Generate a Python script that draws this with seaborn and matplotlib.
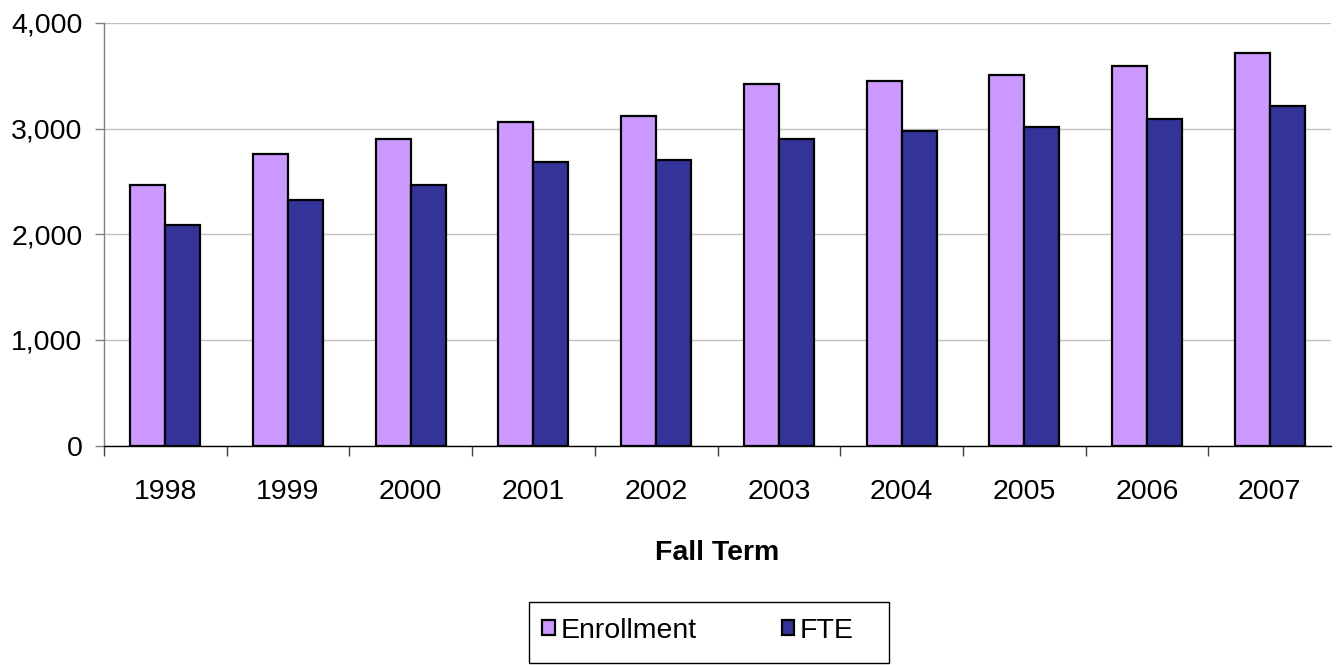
import matplotlib
matplotlib.use("Agg")
import matplotlib.pyplot as plt
import seaborn as sns
import pandas as pd
from matplotlib.patches import Patch, Rectangle
from matplotlib.ticker import FuncFormatter, FixedLocator

years = ["1998", "1999", "2000", "2001", "2002", "2003", "2004", "2005", "2006", "2007"]
enrollment = [2470, 2761, 2900, 3065, 3121, 3425, 3453, 3503, 3595, 3718]
fte = [2085, 2328, 2467, 2685, 2707, 2900, 2973, 3020, 3090, 3215]
series_names = ["Enrollment", "FTE"]
colors = ["#CC99FF", "#333399"]

df = pd.DataFrame({
    "year": years * 2,
    "value": enrollment + fte,
    "series": [series_names[0]] * len(years) + [series_names[1]] * len(years),
})

sns.set_style("white")
plt.rcParams["font.family"] = ["Liberation Sans", "DejaVu Sans"]
plt.rcParams["text.color"] = "black"
plt.rcParams["axes.labelcolor"] = "black"
plt.rcParams["xtick.labelcolor"] = "black"
plt.rcParams["ytick.labelcolor"] = "black"

W, H = 1339, 665
fig = plt.figure(figsize=(W / 100, H / 100), dpi=100)
ax = fig.add_axes([104 / W, 1 - 445.5 / H, (1331 - 104) / W, (445.5 - 23) / H])

sns.barplot(data=df, x="year", y="value", hue="series", order=years,
            hue_order=series_names, palette=colors, width=0.57,
            edgecolor="black", linewidth=1.6, saturation=1, ax=ax, legend=False)

ax.set_ylim(0, 4000)
ax.set_xlim(-0.5, len(years) - 0.5)
ax.set_yticks([0, 1000, 2000, 3000, 4000])
ax.yaxis.set_major_formatter(FuncFormatter(lambda v, p: f"{int(v):,}"))
ax.yaxis.grid(True, color="#C0C0C0", linewidth=1)
ax.set_axisbelow(True)
for s in ["top", "right"]:
    ax.spines[s].set_visible(False)
ax.spines["left"].set_color("#808080")
ax.spines["left"].set_linewidth(1)
ax.spines["bottom"].set_color("black")
ax.spines["bottom"].set_linewidth(1)

ax.tick_params(axis="y", which="major", direction="out", length=6.5, width=1,
               color="#808080", pad=9, labelsize=20.5, left=True, labelcolor="black")
ax.tick_params(axis="x", which="major", length=0, pad=24, labelsize=20.5, labelcolor="black")
ax.xaxis.set_minor_locator(FixedLocator([i + 0.5 for i in range(len(years) - 1)] + [-0.5]))
ax.tick_params(axis="x", which="minor", direction="out", length=7.5, width=1,
               color="#404040", bottom=True)

ax.set_xlabel("Fall Term", fontsize=20.5, fontweight="bold", color="black")
ax.xaxis.label.set_va("center")
ax.xaxis.set_label_coords(0.5, (445.5 - 553) / (445.5 - 23))
ax.set_ylabel("")

handles = [Patch(facecolor=c, edgecolor="black", linewidth=1.6) for c in colors]
leg = fig.legend(handles, series_names, loc="center left",
                 bbox_to_anchor=(542 / W, 1 - 631 / H), ncol=2, frameon=False,
                 fontsize=20.5, handlelength=0.44, handleheight=0.44,
                 handletextpad=0.2, columnspacing=3.0, borderpad=0, borderaxespad=0)
for t in leg.get_texts():
    t.set_color("black")
fig.patches.append(Rectangle((529 / W, 1 - 663 / H), (889 - 529) / W, (663 - 602) / H,
                             transform=fig.transFigure, facecolor="none",
                             edgecolor="black", linewidth=1))

fig.savefig("out.png", dpi=100)
